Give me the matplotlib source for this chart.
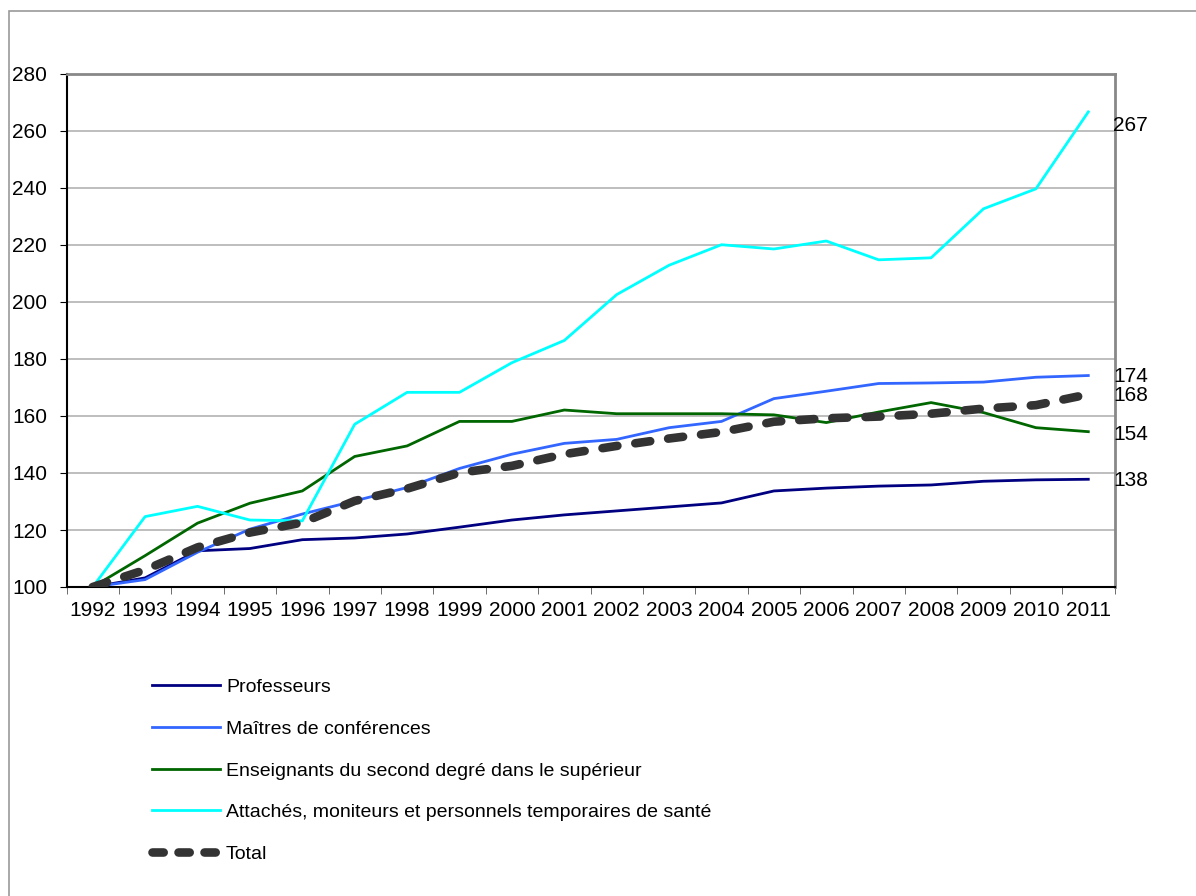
import numpy as np
import matplotlib.pyplot as plt
from matplotlib.patches import Rectangle
from matplotlib.lines import Line2D

plt.rcParams['font.family'] = ['Liberation Sans', 'DejaVu Sans']

years = [str(y) for y in range(1992, 2012)]

professeurs = [100, 103.2, 112.7, 113.5, 116.6, 117.2, 118.6, 121.0, 123.5, 125.3,
               126.7, 128.1, 129.5, 133.7, 134.7, 135.4, 135.8, 137.1, 137.6, 137.8]
maitres = [100, 102.6, 112.2, 120.3, 125.6, 130.2, 134.9, 141.6, 146.6, 150.4,
           151.8, 155.9, 158.1, 166.1, 168.7, 171.4, 171.6, 171.9, 173.6, 174.2]
second_degre = [100, 111.0, 122.4, 129.4, 133.7, 145.8, 149.5, 158.1, 158.1, 162.1,
                160.8, 160.8, 160.8, 160.4, 157.7, 161.4, 164.7, 161.2, 155.9, 154.5]
attaches = [100, 124.7, 128.3, 123.5, 123.2, 157.1, 168.3, 168.3, 178.7, 186.5,
            202.6, 212.9, 220.1, 218.6, 221.4, 214.8, 215.5, 232.7, 239.7, 266.7]
total = [100, 106.0, 113.9, 119.1, 122.6, 130.2, 134.5, 140.1, 142.5, 146.6,
         149.5, 152.1, 154.4, 158.0, 159.2, 159.8, 160.8, 162.6, 163.8, 167.6]

labels = ['Professeurs', 'Maîtres de conférences',
          'Enseignants du second degré dans le supérieur',
          'Attachés, moniteurs et personnels temporaires de santé', 'Total']
end_labels = ['138', '174', '154', '267', '168']
label_shift = [0, 0, -1, -9, 0]   # points, to keep labels off each other

fig = plt.figure(figsize=(11.96, 8.96), dpi=100)
fig.patches.append(Rectangle((9 / 1196, -0.1), 1.2, (896 - 11) / 896 + 0.1,
                             transform=fig.transFigure, fill=False,
                             edgecolor='#999999', lw=1.2))

ax = fig.add_axes([66.5 / 1196, 309 / 896, 1048 / 1196, 513 / 896])
x = np.arange(len(years))

series = [professeurs, maitres, second_degre, attaches]
colors = ['#000080', '#3366FF', '#006600', '#00FFFF']
handles = []
for vals, c, lab in zip(series, colors, labels[:4]):
    ln, = ax.plot(x, vals, color=c, lw=2, label=lab, zorder=3)
    handles.append(ln)
ax.plot(x, total, color='#333333', lw=6.2, linestyle=(0, (1.75, 2.1)),
        dash_capstyle='round', zorder=4)
# legend sample for the total uses a tighter dash so three dashes fit
handles.append(Line2D([], [], color='#333333', lw=6.2, linestyle=(0, (1.3, 1.72)),
                      dash_capstyle='round'))

for vals, txt, dy in zip(series + [total], end_labels, label_shift):
    ax.annotate(txt, xy=(1, vals[-1]), xycoords=('axes fraction', 'data'),
                xytext=(-1, dy - 1), textcoords='offset points',
                ha='left', va='center', fontsize=15)

ax.set_xlim(-0.5, len(years) - 0.5)
ax.set_ylim(100, 280)
ax.set_yticks(range(100, 281, 20))
ax.set_xticks(x)
ax.set_xticklabels(years)
ax.set_xticks(np.arange(-0.5, len(years), 1), minor=True)
ax.tick_params(axis='x', which='major', length=0, pad=10, labelsize=15)
ax.tick_params(axis='x', which='minor', length=5, direction='out', color='#555555')
ax.tick_params(axis='y', length=5, direction='out', pad=9, labelsize=15)
ax.grid(axis='y', color='#b3b3b3', lw=1.2)
ax.set_axisbelow(True)
for side in ['top', 'right']:
    ax.spines[side].set_color('#888888')
    ax.spines[side].set_linewidth(2)
for side in ['left', 'bottom']:
    ax.spines[side].set_color('black')
    ax.spines[side].set_linewidth(1.5)

fig.legend(handles, labels, loc='upper left',
           bbox_to_anchor=(134.5 / 1196, (896 - 661) / 896),
           frameon=False, fontsize=14, handlelength=3.5, handletextpad=0.3,
           labelspacing=1.24)

fig.savefig('out.png', dpi=100)
